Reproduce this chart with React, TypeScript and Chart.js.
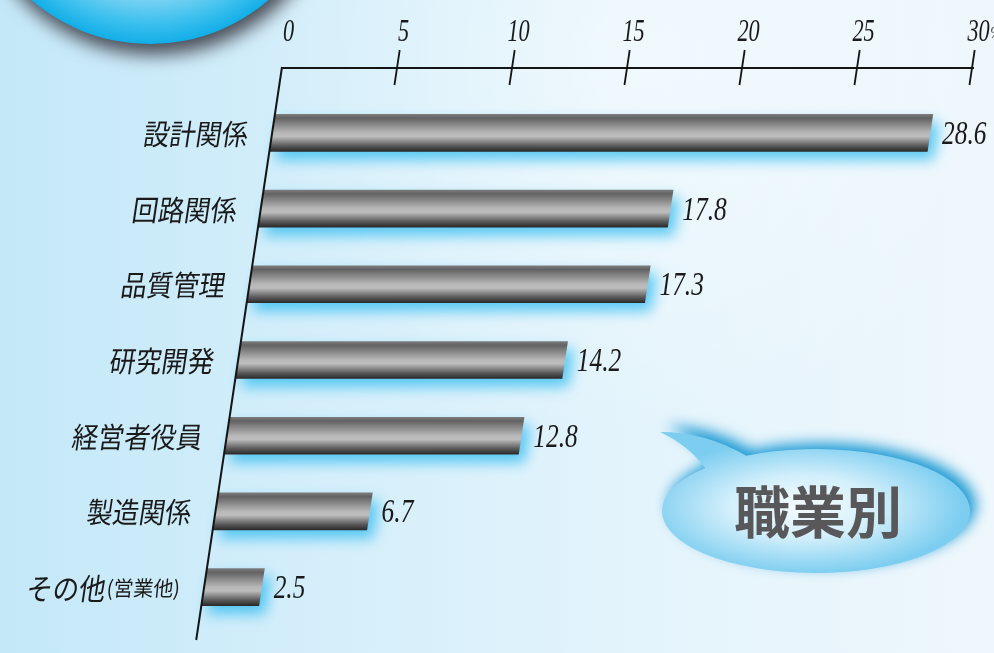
import React, { useEffect, useRef } from "react";
import { Chart, registerables } from "chart.js";

Chart.register(...registerables);

const categories = ["設計関係", "回路関係", "品質管理", "研究開発", "経営者役員", "製造関係", "その他(営業他)"];
const values = [28.6, 17.8, 17.3, 14.2, 12.8, 6.7, 2.5];
const tickValues = [0, 5, 10, 15, 20, 25, 30];
const tickUnit = "%";
const title = "職業別";

const K = 0.15; // slant of the italic-style axes
const Y0 = 68; // y of the top axis line (skew pivot)
const sk = (x: number, y: number) => x - K * (y - Y0);

function drawText(ctx: CanvasRenderingContext2D, text: string, x: number, y: number, font: string, align: CanvasTextAlign, sx: number, skew = 0, baseline: CanvasTextBaseline = "alphabetic") {
  ctx.save();
  ctx.translate(x, y);
  ctx.transform(sx, 0, -skew, 1, 0, 0);
  ctx.font = font;
  ctx.textAlign = align;
  ctx.textBaseline = baseline;
  ctx.fillText(text, 0, 0);
  ctx.restore();
}

const backgroundPlugin = {
  id: "bgDeco",
  beforeDraw(chart: any) {
    const ctx: CanvasRenderingContext2D = chart.ctx;
    const W = chart.width, H = chart.height;
    ctx.save();
    const g = ctx.createLinearGradient(0, 0, W, 0);
    g.addColorStop(0, "#c4e8f8");
    g.addColorStop(0.3, "#d3eefa");
    g.addColorStop(0.65, "#e4f4fc");
    g.addColorStop(1, "#eef7fc");
    ctx.fillStyle = g;
    ctx.fillRect(0, 0, W, H);
    const rg = ctx.createRadialGradient(640, 60, 10, 640, 60, 380);
    rg.addColorStop(0, "rgba(255,255,255,0.45)");
    rg.addColorStop(1, "rgba(255,255,255,0)");
    ctx.fillStyle = rg;
    ctx.fillRect(0, 0, W, H);

    // big circle top-left
    ctx.save();
    ctx.shadowColor = "rgba(50,50,60,0.85)";
    ctx.shadowBlur = 18;
    ctx.shadowOffsetX = 4;
    ctx.shadowOffsetY = 11;
    const cg = ctx.createRadialGradient(150, -175, 10, 150, -138, 182);
    cg.addColorStop(0, "#e2f5fc");
    cg.addColorStop(0.72, "#9cdcf5");
    cg.addColorStop(0.9, "#3cc0ee");
    cg.addColorStop(1, "#12aee8");
    ctx.fillStyle = cg;
    ctx.beginPath();
    ctx.arc(150, -138, 182, 0, Math.PI * 2);
    ctx.fill();
    ctx.restore();

    // speech bubble
    ctx.save();
    const cx = 816, cy = 511, rx = 154, ry = 62;
    const a0 = (243 * Math.PI) / 180;
    const a1 = a0 + (341 * Math.PI) / 180;
    ctx.beginPath();
    ctx.ellipse(cx, cy, rx, ry, 0, a0, a1);
    ctx.quadraticCurveTo(688, 445, 660, 432);
    ctx.quadraticCurveTo(705, 432, 745, 455);
    ctx.closePath();
    ctx.shadowColor = "rgba(20,150,210,0.95)";
    ctx.shadowBlur = 14;
    ctx.shadowOffsetX = 6;
    ctx.shadowOffsetY = -6;
    ctx.translate(cx - 12, cy - 4);
    ctx.scale(1, 0.42);
    const bg = ctx.createRadialGradient(0, 0, 5, 0, 0, 160);
    bg.addColorStop(0, "#f4fbfe");
    bg.addColorStop(0.45, "#d2effb");
    bg.addColorStop(1, "#7ccdf0");
    ctx.fillStyle = bg;
    ctx.fill();
    ctx.restore();
    ctx.fillStyle = "#58585a";
    ctx.font = "bold 56px 'Noto Sans CJK JP'";
    ctx.textAlign = "center";
    ctx.textBaseline = "middle";
    ctx.fillText(title, 818, 512);
    ctx.restore();
  },
};

const skewPlugin = {
  id: "skewBars",
  beforeDatasetsDraw(chart: any) {
    const ctx: CanvasRenderingContext2D = chart.ctx;
    ctx.save();
    ctx.transform(1, 0, -K, 1, K * Y0, 0);
    ctx.shadowColor = "rgba(40,185,240,0.75)";
    ctx.shadowBlur = 14;
    ctx.shadowOffsetX = 6;
    ctx.shadowOffsetY = 8;
  },
  afterDatasetsDraw(chart: any) {
    chart.ctx.restore();
  },
  afterDraw(chart: any) {
    const ctx: CanvasRenderingContext2D = chart.ctx;
    const xs = chart.scales.x;
    const ys = chart.scales.y;
    const x0 = xs.getPixelForValue(tickValues[0]);
    const xMax = xs.getPixelForValue(tickValues[tickValues.length - 1]);
    ctx.save();
    ctx.strokeStyle = "#151515";
    ctx.lineWidth = 2;
    ctx.lineCap = "butt";
    ctx.beginPath();
    ctx.moveTo(x0, Y0);
    ctx.lineTo(xMax + 2, Y0);
    ctx.moveTo(x0, Y0 - 1);
    ctx.lineTo(sk(x0, 640), 640);
    ctx.stroke();
    ctx.lineWidth = 1.8;
    ctx.beginPath();
    tickValues.forEach((v) => {
      if (v === 0) return;
      const x = xs.getPixelForValue(v);
      ctx.moveTo(sk(x, 50), 50);
      ctx.lineTo(sk(x, 85), 85);
    });
    ctx.stroke();

    ctx.fillStyle = "#1a1a1a";
    const tickFont = "italic 31px 'Liberation Serif'";
    tickValues.forEach((v, i) => {
      const x = xs.getPixelForValue(v);
      const isLast = i === tickValues.length - 1;
      drawText(ctx, String(v), sk(x, 31) + 1, 41, tickFont, "center", 0.72);
      if (isLast) {
        drawText(ctx, tickUnit, sk(x, 31) + 13, 38, "italic 16px 'Liberation Serif'", "left", 0.8);
      }
    });

    // value labels
    values.forEach((v, i) => {
      const yc = ys.getPixelForValue(i);
      const xe = sk(xs.getPixelForValue(v), yc);
      drawText(ctx, v.toFixed(1), xe + 12, yc + 11, "italic 33px 'Liberation Serif'", "left", 0.77);
    });

    // category labels
    categories.forEach((c, i) => {
      const yc = ys.getPixelForValue(i);
      const right = sk(x0, yc) - 24;
      const p = c.indexOf("(");
      if (p > 0) {
        const main = c.slice(0, p);
        const sub = c.slice(p);
        ctx.font = "21px 'Noto Sans CJK JP'";
        const wSub = ctx.measureText(sub).width * 0.95;
        drawText(ctx, sub, right, yc + 1, "21px 'Noto Sans CJK JP'", "right", 0.95, 0.1, "middle");
        drawText(ctx, main, right - wSub - 1, yc + 1, "30px 'Noto Sans CJK JP'", "right", 0.88, 0.15, "middle");
      } else {
        drawText(ctx, c, right, yc + 1, "29px 'Noto Sans CJK JP'", "right", 0.9, 0.15, "middle");
      }
    });
    ctx.restore();
  },
};

function barGradient(context: any) {
  const chart = context.chart;
  const ys = chart.scales && chart.scales.y;
  if (!ys || !chart.chartArea) return "#888888";
  const yc = ys.getPixelForValue(context.dataIndex);
  const g = chart.ctx.createLinearGradient(0, yc - 18.5, 0, yc + 18.5);
  g.addColorStop(0, "#7c7c7c");
  g.addColorStop(0.1, "#626262");
  g.addColorStop(0.5, "#b8b8b8");
  g.addColorStop(0.6, "#bdbdbd");
  g.addColorStop(0.85, "#5a5a5a");
  g.addColorStop(1, "#2a2a2a");
  return g;
}

export default function App() {
  const ref = useRef<HTMLCanvasElement | null>(null);
  useEffect(() => {
    if (!ref.current) return;
    const chart = new Chart(ref.current, {
      type: "bar",
      data: {
        labels: categories,
        datasets: [
          {
            data: values,
            backgroundColor: barGradient as any,
            borderWidth: 0,
            barThickness: 37,
            clip: false as any,
          },
        ],
      },
      options: {
        indexAxis: "y",
        responsive: false,
        animation: false,
        devicePixelRatio: 1,
        layout: { padding: { left: 282, right: 22, top: 95, bottom: 28 } },
        scales: {
          x: { type: "linear", min: 0, max: 30, display: false },
          y: { display: false },
        },
        plugins: { legend: { display: false }, tooltip: { enabled: false } },
      },
      plugins: [backgroundPlugin, skewPlugin],
    });
    return () => chart.destroy();
  }, []);
  return (
    <div style={{ position: "absolute", left: 0, top: 0, width: 994, height: 653 }}>
      <canvas ref={ref} width={994} height={653} style={{ width: 994, height: 653, display: "block" }} />
    </div>
  );
}
